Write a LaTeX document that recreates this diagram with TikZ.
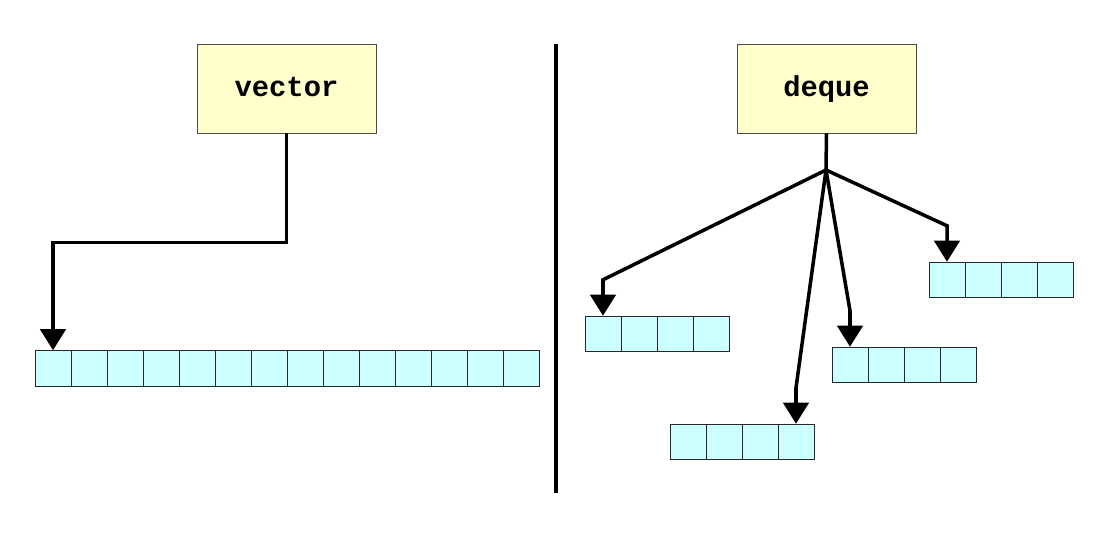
\documentclass[tikz,border=0pt]{standalone}
\usepackage{fontspec}
\setmonofont{Liberation Mono}
\usetikzlibrary{arrows.meta,calc}

\definecolor{boxfill}{HTML}{FFFFCC}
\definecolor{cellfill}{HTML}{CCFFFF}

\tikzset{
  namebox/.style={draw=black!70, fill=boxfill, minimum width=4.475cm, minimum height=2.225cm,
    text height=15.4pt, text depth=3.5pt,
    font=\ttfamily\bfseries\fontsize{20.5}{24}\selectfont},
  cell/.style={draw=black!85, fill=cellfill, minimum width=0.9cm, minimum height=0.89cm,
    inner sep=0pt, line width=0.6pt},
  link/.style={line width=2.5pt},
  ptr/.style={link, -{Triangle[width=18pt,length=15pt]}}
}

\begin{document}
\begin{tikzpicture}[x=0.025cm, y=-0.025cm]
\useasboundingbox (0,0) rectangle (1100,534);

% vector: one block
\node [namebox] (vec) at (286.5, 88.5) {vector};
\foreach \i in {1,...,14}
  \node [cell] (v\i) at (17+36*\i, 368.5) {};

\draw [ptr] (vec.south) -- ++(0,109) -| (v1.north);

% divider
\draw [link] (556, 44) -- (556, 493);

% deque: several blocks
\node [namebox] (deq) at (826.5, 88.5) {deque};
\foreach \i in {1,...,4} {
  \node [cell] (a\i) at (567+36*\i, 334) {};
  \node [cell] (b\i) at (652+36*\i, 442) {};
  \node [cell] (c\i) at (814+36*\i, 365) {};
  \node [cell] (d\i) at (911+36*\i, 280) {};
}

\coordinate (split) at (826, 170);
\draw [link] (deq.south) -- (split);
\draw [ptr] (split) -- ($(a1.north)+(0,-36)$) -- (a1.north);
\draw [ptr] (split) -- ($(b4.north)+(0,-36)$) -- (b4.north);
\draw [ptr] (split) -- ($(c1.north)+(0,-36)$) -- (c1.north);
\draw [ptr] (split) -- ($(d1.north)+(0,-36)$) -- (d1.north);
\end{tikzpicture}
\end{document}
